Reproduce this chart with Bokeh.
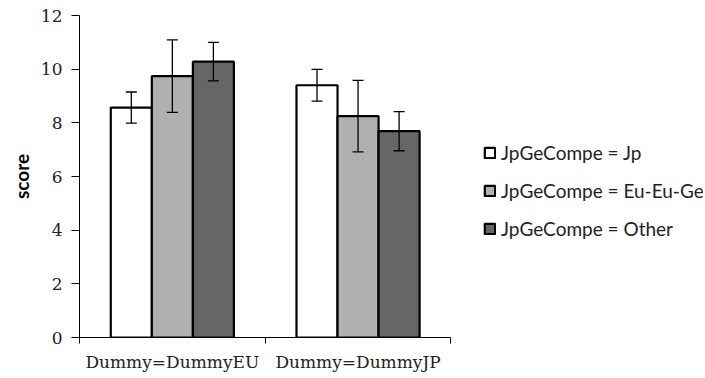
from bokeh.plotting import figure
from bokeh.models import (ColumnDataSource, FixedTicker, Whisker, TeeHead, Legend, LegendItem, Range1d)
from bokeh.embed import file_html
from bokeh.resources import INLINE

groups = ["Dummy=DummyEU", "Dummy=DummyJP"]
series = ["JpGeCompe = Jp", "JpGeCompe = Eu-Eu-Ge", "JpGeCompe = Other"]
means = {
    "JpGeCompe = Jp": [8.57, 9.40],
    "JpGeCompe = Eu-Eu-Ge": [9.74, 8.25],
    "JpGeCompe = Other": [10.28, 7.69],
}
errors = {
    "JpGeCompe = Jp": [0.58, 0.59],
    "JpGeCompe = Eu-Eu-Ge": [1.35, 1.33],
    "JpGeCompe = Other": [0.72, 0.73],
}
colors = ["#ffffff", "#b0b0b0", "#666666"]
yticks = [0, 2, 4, 6, 8, 10, 12]

bar_w = 0.221
offsets = [-bar_w, 0.0, bar_w]

W, H = 703, 375
LEFT, RIGHT, TOP, BOTTOM = 79, 0, 15, 38
cat_px = 185.7  # pixel width of one category slot
frame_w = W - LEFT - RIGHT
x_end = frame_w / cat_px  # frame extends right to make room for the legend

p = figure(width=W, height=H, output_backend="svg", toolbar_location=None,
           x_range=Range1d(0, x_end), y_range=Range1d(0, 12),
           min_border_left=LEFT, min_border_right=RIGHT, min_border_top=TOP, min_border_bottom=BOTTOM)
p.outline_line_color = None
p.xgrid.visible = False
p.ygrid.visible = False
p.background_fill_color = "white"
p.border_fill_color = "white"

items = []
for k, s in enumerate(series):
    xs = [i + 0.5 + offsets[k] for i in range(len(groups))]
    vals = means[s]
    errs = errors[s]
    src = ColumnDataSource(dict(x=xs, top=vals,
                                upper=[v + e for v, e in zip(vals, errs)],
                                lower=[v - e for v, e in zip(vals, errs)]))
    r = p.vbar(x="x", top="top", bottom=0, width=bar_w, source=src,
               fill_color=colors[k], line_color="black", line_width=2.2)
    items.append(LegendItem(label=s, renderers=[r]))
    w = Whisker(base="x", upper="upper", lower="lower", source=src, level="annotation",
                line_color="black", line_width=1.3,
                upper_head=TeeHead(size=11, line_color="black", line_width=1.3),
                lower_head=TeeHead(size=11, line_color="black", line_width=1.3))
    p.add_layout(w)

# x axis
p.xaxis.bounds = (0, len(groups))
p.xaxis.ticker = FixedTicker(ticks=[i + 0.5 for i in range(len(groups))],
                             minor_ticks=list(range(len(groups) + 1)))
p.xaxis.major_label_overrides = {i + 0.5: g for i, g in enumerate(groups)}
p.xaxis.major_tick_line_color = None
p.xaxis.minor_tick_out = 6
p.xaxis.minor_tick_in = 0
p.xaxis.minor_tick_line_color = "black"
p.xaxis.axis_line_color = "black"
p.xaxis.major_label_text_font = "DejaVu Serif"
p.xaxis.major_label_text_font_size = "17px"
p.xaxis.major_label_text_color = "#222222"
p.xaxis.major_label_standoff = 8

# y axis
p.yaxis.ticker = FixedTicker(ticks=yticks)
p.yaxis.minor_tick_line_color = None
p.yaxis.major_tick_out = 8
p.yaxis.major_tick_in = 0
p.yaxis.major_tick_line_color = "black"
p.yaxis.axis_line_color = "black"
p.yaxis.major_label_text_font = "DejaVu Serif"
p.yaxis.major_label_text_font_size = "17px"
p.yaxis.major_label_text_color = "#222222"
p.yaxis.major_label_standoff = 9
p.yaxis.axis_label = "score"
p.yaxis.axis_label_text_font = "Lato"
p.yaxis.axis_label_text_font_style = "bold"
p.yaxis.axis_label_text_font_size = "19px"
p.yaxis.axis_label_text_color = "black"
p.yaxis.axis_label_standoff = 5

legend = Legend(items=items, location=(404, 97), orientation="vertical",
                glyph_width=13, glyph_height=13, label_height=20,
                label_standoff=5, spacing=15, padding=0, margin=0,
                border_line_color=None, background_fill_alpha=0,
                label_text_font="Lato", label_text_font_size="19px",
                label_text_color="#222222")
p.add_layout(legend, "center")

open("out.html", "w").write(file_html(p, INLINE))
